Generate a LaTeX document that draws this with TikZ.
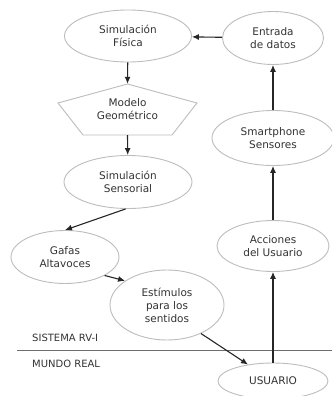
\documentclass[tikz,border=0pt]{standalone}
\usepackage{fontspec}
\setmainfont{DejaVu Sans}
\usetikzlibrary{arrows.meta,shapes.geometric}
\definecolor{ink}{HTML}{333333}
\definecolor{rim}{HTML}{BDBDBD}
\definecolor{rule}{HTML}{6E6E6E}
\tikzset{
  bubble/.style={ellipse,draw=rim,line width=0.9pt,fill=white,align=center,
    text=ink,font=\fontsize{10.5}{13}\selectfont,inner sep=0pt},
  plain/.style={align=center,text=ink,font=\fontsize{10.5}{13}\selectfont,inner sep=0pt},
  tag/.style={text=ink,font=\fontsize{10}{11}\selectfont,anchor=west,inner sep=0pt},
  arr/.style={-{Latex[length=7pt,width=6pt]},line width=1.1pt,draw=black!85},
}
\begin{document}
\begin{tikzpicture}[x=1pt,y=-1pt]
  \clip (0,0) rectangle (332,396);
  \fill[white] (0,0) rectangle (332,396);
  % left column
  \node[bubble,minimum width=127,minimum height=52] (fisica) at (128,36) {Simulación\\Física};
  \node[plain,minimum width=139,minimum height=51] (modelo) at (127.5,109.5) {Modelo\\Geométrico};
  \draw[draw=rim,line width=0.9pt] (127.5,84) -- (197,103) -- (172,135) -- (83,135) -- (58,103) -- cycle;
  \node[bubble,minimum width=128,minimum height=53] (sensorial) at (128,182) {Simulación\\Sensorial};
  \node[bubble,minimum width=108,minimum height=53] (gafas) at (65,257) {Gafas\\Altavoces};
  \node[bubble,minimum width=114,minimum height=70] (estimulos) at (167,305) {Estímulos\\para los\\sentidos};
  % right column
  \node[bubble,minimum width=101,minimum height=53] (entrada) at (273,38) {Entrada\\de datos};
  \node[bubble,minimum width=122,minimum height=55] (smart) at (273,138) {Smartphone\\Sensores};
  \node[bubble,minimum width=112,minimum height=51] (acciones) at (273,246) {Acciones\\del Usuario};
  \node[bubble,minimum width=110,minimum height=36] (usuario) at (273,381) {USUARIO};
  % boundary
  \coordinate (lineL) at (17,350);
  \coordinate (lineR) at (332,350);
  \draw[draw=rule,line width=0.9pt] (lineL) -- (lineR);
  \node[tag] (sistema) at (32,338) {SISTEMA RV-I};
  \node[tag] (mundo) at (32,364) {MUNDO REAL};
  % connectors
  \draw[arr] (entrada) -- (fisica);
  \draw[arr] (fisica) -- (modelo.north);
  \draw[arr] (modelo.south) -- (sensorial);
  \draw[arr] (sensorial.-95) -- (gafas.north);
  \draw[arr] (gafas.-25) -- (estimulos.150);
  \draw[arr] (estimulos.-40) -- ([xshift=-25pt,yshift=-2pt]usuario.north);
  \draw[arr] (usuario) -- (acciones);
  \draw[arr] (acciones) -- (smart);
  \draw[arr] (smart) -- (entrada);
\end{tikzpicture}
\end{document}
